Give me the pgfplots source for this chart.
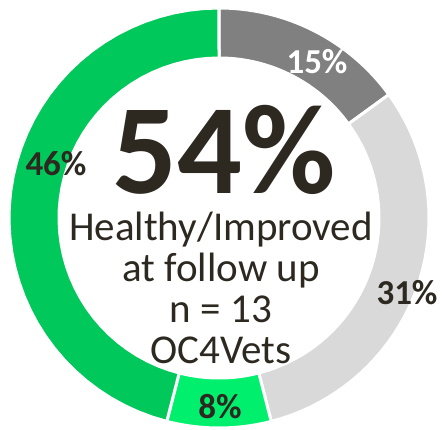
\documentclass[border=0pt]{standalone}
\usepackage{pgfplots}
\pgfplotsset{compat=1.18}
\usepackage{fontspec}
\setmainfont{Carlito}

\definecolor{txt}{RGB}{45,41,33}
\definecolor{darkgrey}{RGB}{128,128,128}
\definecolor{lightgrey}{RGB}{217,217,217}
\definecolor{green1}{RGB}{0,200,90}
\definecolor{green2}{RGB}{0,240,110}

% ring geometry in picture pixels
\def\cx{219}
\def\cy{212}
\def\Ro{210}
\def\Ri{160}

% one ring segment from start% to end% (clockwise from 12 o'clock)
\newcommand{\segment}[3]{%
  \addplot[fill=#3, draw=white, line width=3pt, variable=\t,
    samples at={0,1,...,40,100,101,...,140}]
    ({\cx + (\t<50 ? \Ro : \Ri)*sin(3.6*(\t<50 ? #1+(#2-#1)*\t/40 : #2-(#2-#1)*(\t-100)/40))},
     {\cy + (\t<50 ? \Ro : \Ri)*cos(3.6*(\t<50 ? #1+(#2-#1)*\t/40 : #2-(#2-#1)*(\t-100)/40))}) -- cycle;
}

\begin{document}
\begin{tikzpicture}
\begin{axis}[
    width=442pt, height=430pt, scale only axis,
    xmin=0, xmax=442, ymin=0, ymax=430,
    hide axis, clip=false,
]
\addplot[draw=none] coordinates {(0,0) (442,430)};

% shares: 15, 31, 8, 46
\segment{0}{15}{darkgrey}
\segment{15}{46}{lightgrey}
\segment{46}{54}{green2}
\segment{54}{100}{green1}

\node[font=\fontsize{35}{35}\selectfont\bfseries, text=white] at (axis cs:317,368) {15\%};
\node[font=\fontsize{35}{35}\selectfont\bfseries, text=txt] at (axis cs:407,137) {31\%};
\node[font=\fontsize{35}{35}\selectfont\bfseries, text=txt] at (axis cs:220,23) {8\%};
\node[font=\fontsize{35}{35}\selectfont\bfseries, text=txt] at (axis cs:56,266) {46\%};

\node[font=\fontsize{128}{128}\selectfont\bfseries, text=txt, inner sep=0pt] at (axis cs:224,280) {54\%};
\node[font=\fontsize{41}{41}\selectfont, text=txt, align=center, anchor=north, inner sep=0pt]
  at (axis cs:221,218) {Healthy/Improved\\at follow up\\n = 13\\OC4Vets};
\end{axis}
\end{tikzpicture}
\end{document}
